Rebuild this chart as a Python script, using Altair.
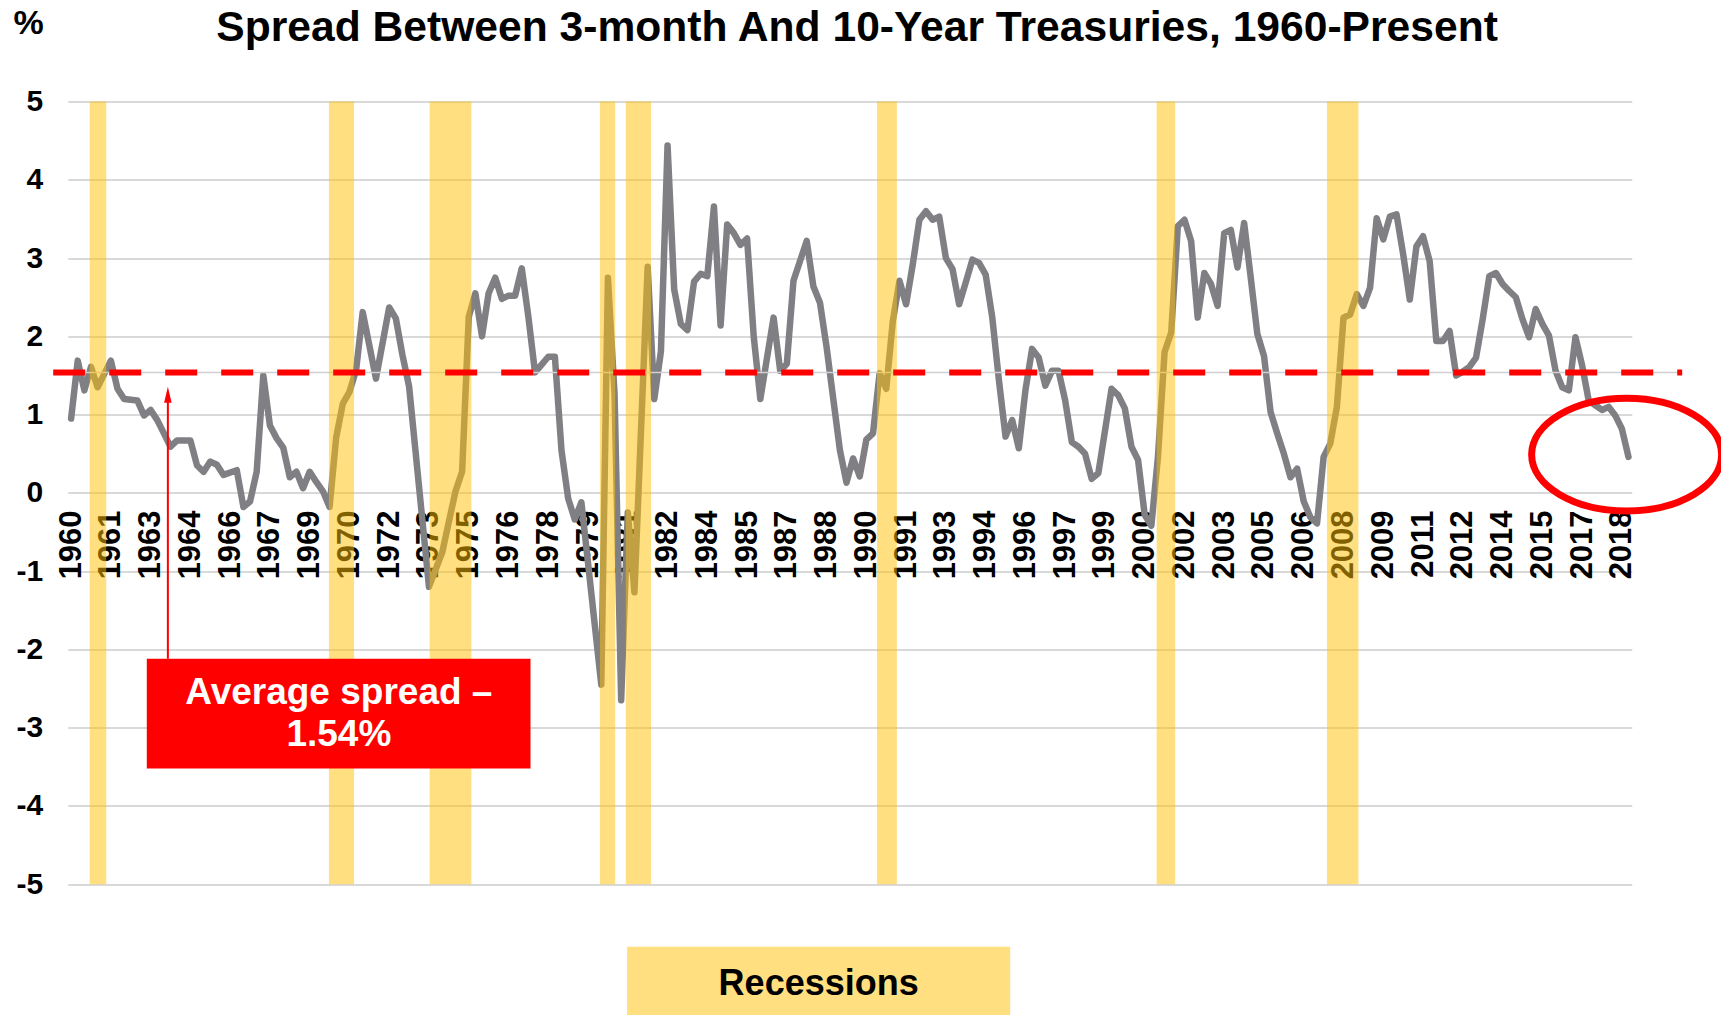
import json
import altair as alt
import pandas as pd

# ---------------- data ----------------
# quarter index = quarters since 1960Q1 (0 = 1960Q1, 235 = 2018Q4)
quarter_idx = [
    0, 1, 2, 3, 4, 6, 7, 8, 10, 11, 12, 13, 14, 15, 16, 18, 19, 20, 21, 22, 23, 25, 26, 27, 28, 29,
    30, 31, 32, 33, 34, 35, 36, 37, 38, 39, 40, 41, 42, 43, 44, 46, 48, 49, 50, 51, 54, 56, 58, 59,
    60, 61, 62, 63, 64, 65, 66, 67, 68, 69, 70, 71, 72, 73, 74, 75, 76, 77, 80, 81, 82, 83, 84, 85, 87, 88, 89,
    90, 91, 92, 93, 94, 95, 96, 97, 98, 99, 100, 101, 102, 103, 104, 106, 107, 108, 109, 111, 112, 113, 114, 116, 117, 118, 119,
    120, 121, 122, 123, 124, 125, 126, 127, 128, 129, 130, 131, 132, 133, 134, 135, 136, 137, 138, 139, 140, 141, 142, 143, 144, 145, 146, 147, 148, 149,
    150, 151, 152, 153, 154, 155, 157, 158, 159, 160, 161, 162, 163, 164, 165, 166, 167, 168, 169, 170, 171, 172, 173, 174, 175, 176, 177, 178, 179,
    180, 181, 182, 183, 184, 185, 186, 187, 188, 189, 190, 191, 192, 193, 194, 195, 196, 197, 198, 199, 200, 201, 202, 203, 204, 205, 206, 207, 208, 209,
    210, 211, 212, 213, 214, 215, 216, 217, 218, 219, 220, 221, 222, 223, 224, 225, 226, 227, 228, 229, 230, 231, 232, 233, 234, 235,
]
spread_pct = [
    0.95, 1.69, 1.31, 1.61, 1.35, 1.69, 1.33, 1.20, 1.18, 0.99, 1.06, 0.93, 0.76, 0.59, 0.67, 0.67, 0.35, 0.27, 0.40, 0.36, 0.23, 0.29, -0.18, -0.11, 0.27, 1.50,
    0.86, 0.70, 0.58, 0.20, 0.27, 0.06, 0.27, 0.14, 0.02, -0.18, 0.71, 1.14, 1.29, 1.57, 2.31, 1.46, 2.37, 2.23, 1.76, 1.36, -1.20, -0.76, 0.02, 0.27,
    2.25, 2.55, 2.00, 2.55, 2.75, 2.48, 2.52, 2.52, 2.87, 2.25, 1.54, 1.64, 1.74, 1.74, 0.54, -0.07, -0.34, -0.12, -2.45, 2.75, 1.27, -2.65, -0.25, -1.27, 2.89, 1.20, 1.81,
    4.44, 2.60, 2.16, 2.08, 2.70, 2.80, 2.77, 3.66, 2.14, 3.43, 3.32, 3.17, 3.25, 2.00, 1.20, 2.24, 1.56, 1.65, 2.71, 3.22, 2.64, 2.43, 1.86, 0.55, 0.13, 0.44, 0.21,
    0.68, 0.76, 1.53, 1.33, 2.20, 2.71, 2.41, 2.92, 3.49, 3.60, 3.49, 3.53, 3.00, 2.86, 2.41, 2.69, 2.98, 2.94, 2.79, 2.24, 1.44, 0.72, 0.93, 0.57, 1.31, 1.84, 1.73, 1.37, 1.56, 1.56,
    1.18, 0.65, 0.59, 0.50, 0.18, 0.25, 1.33, 1.25, 1.08, 0.59, 0.42, -0.28, -0.42, 0.46, 1.80, 2.05, 3.41, 3.49, 3.22, 2.24, 2.81, 2.67, 2.39, 3.32, 3.36, 2.88, 3.45, 2.75, 2.03,
    1.75, 1.03, 0.76, 0.50, 0.20, 0.31, -0.11, -0.31, -0.39, 0.46, 0.63, 1.10, 2.24, 2.28, 2.54, 2.39, 2.62, 3.51, 3.24, 3.53, 3.56, 3.05, 2.47, 3.15, 3.28, 2.96, 1.94, 1.94, 2.07, 1.50,
    1.55, 1.61, 1.73, 2.22, 2.77, 2.81, 2.67, 2.58, 2.50, 2.22, 1.99, 2.35, 2.16, 2.01, 1.56, 1.35, 1.31, 1.99, 1.63, 1.18, 1.12, 1.06, 1.10, 0.99, 0.82, 0.46,
]
assert len(quarter_idx) == len(spread_pct)

# recession shading, in quarter-index units
recession_start = [2.8, 38.9, 54.1, 79.8, 83.7, 121.6, 163.8, 189.5]
recession_end = [5.3, 42.7, 60.4, 82.1, 87.5, 124.6, 166.6, 194.25]

# category-axis labels (every 6th quarter)
tick_quarters = list(range(0, 235, 6))
tick_labels = ["1960", "1961", "1963", "1964", "1966", "1967", "1969", "1970", "1972", "1973",
               "1975", "1976", "1978", "1979", "1981", "1982", "1984", "1985", "1987", "1988",
               "1990", "1991", "1993", "1994", "1996", "1997", "1999", "2000", "2002", "2003",
               "2005", "2006", "2008", "2009", "2011", "2012", "2014", "2015", "2017", "2018"]
y_ticks = [-5, -4, -3, -2, -1, 0, 1, 2, 3, 4, 5]

average_spread = 1.54
title_text = "Spread Between 3-month And 10-Year Treasuries, 1960-Present"
box_lines = ["Average spread \u2013", "1.54%"]
legend_text = "Recessions"

# ---------------- annotation placement (data coordinates) ----------------
avg_x = (-2.7, 243.1)
circle_pos = (234.72, 0.49)
arrow_x, arrow_y0, arrow_y1, head_y = 14.6, -2.12, 1.2, 1.255
box = (11.42, 69.32, -2.12, -3.52)
box_text_pos = (40.4, -2.56)
legend_box = (83.9, 141.7, -5.80, -6.76)
legend_text_pos = (112.8, -6.27)
title_pos = (118.6, 5.78)
pct_pos = (-6.4, 5.87)

# ---------------- styling ----------------
W, H = 1564, 782.6
FONT = "Liberation Sans"
GOLD = "#FFC000"
RED = "#FF0000"

xs = alt.Scale(domain=[-0.5, 235.5], nice=False, zero=False)
ys = alt.Scale(domain=[-5, 5], nice=False, zero=False)

label_expr = f"{json.dumps(tick_labels)}[indexof({json.dumps(tick_quarters)}, datum.value)]"

x_axis = alt.Axis(
    values=tick_quarters, labelExpr=label_expr, labelAngle=270, labelAlign="right",
    labelBaseline="middle", labelPadding=17, labelFontSize=31, labelFont=FONT,
    labelFontWeight="bold", labelColor="black", ticks=False, tickSize=0, domain=False,
    grid=False, offset=-H / 2, title=None, labelOverlap=False, labelFlush=False,
)
y_axis = alt.Axis(
    values=y_ticks, labelExpr="datum.value < 0 ? '-' + abs(datum.value) : '' + datum.value",
    labelFontSize=30, labelFont=FONT, labelFontWeight="bold", labelColor="black",
    labelPadding=25, ticks=False, tickSize=0, domain=False, grid=True,
    gridColor="#D9D9D9", gridWidth=2, title=None,
)


def X(f):
    return alt.X(f, type="quantitative", scale=xs, axis=x_axis)


def Y(f):
    return alt.Y(f, type="quantitative", scale=ys, axis=y_axis)


line_df = pd.DataFrame({"q": quarter_idx, "spread": spread_pct})
rec_df = pd.DataFrame({"start": recession_start, "end": recession_end, "top": 5, "bottom": -5})
avg_df = pd.DataFrame({"x0": [avg_x[0]], "x1": [avg_x[1]], "y": [average_spread]})

line = alt.Chart(line_df).mark_line(
    color="#808084", strokeWidth=6.5, strokeJoin="round", strokeCap="round"
).encode(x=X("q"), y=Y("spread"))

avg_thin = alt.Chart(avg_df).mark_rule(color="#D0D0D0", strokeWidth=1.5).encode(
    x=X("x0"), x2="x1", y=Y("y"))

bands = alt.Chart(rec_df).mark_rect(color=GOLD, opacity=0.5).encode(
    x=X("start"), x2="end", y=Y("top"), y2="bottom")

avg_dash = alt.Chart(avg_df).mark_rule(color=RED, strokeWidth=6, strokeDash=[32, 24]).encode(
    x=X("x0"), x2="x1", y=Y("y"))

r = 111 / 187
k = 0.5523
ellipse_path = (
    f"M-1,0C-1,{-k*r:.4f},{-k:.4f},{-r:.4f},0,{-r:.4f}"
    f"C{k:.4f},{-r:.4f},1,{-k*r:.4f},1,0"
    f"C1,{k*r:.4f},{k:.4f},{r:.4f},0,{r:.4f}"
    f"C{-k:.4f},{r:.4f},-1,{k*r:.4f},-1,0Z"
)
circle = alt.Chart(pd.DataFrame({"x": [circle_pos[0]], "y": [circle_pos[1]]})).mark_point(
    shape=ellipse_path, size=190 * 190, filled=False, color=RED, strokeWidth=7, opacity=1
).encode(x=X("x"), y=Y("y"))

arrow = alt.Chart(pd.DataFrame({"x": [arrow_x], "y0": [arrow_y0], "y1": [arrow_y1]})).mark_rule(
    color=RED, strokeWidth=2).encode(x=X("x"), y=Y("y0"), y2="y1")

arrow_head = alt.Chart(pd.DataFrame({"x": [arrow_x], "y": [head_y]})).mark_point(
    shape="M0,-1L0.47,1L-0.47,1Z", size=256, filled=True, color=RED, opacity=1, strokeWidth=0
).encode(x=X("x"), y=Y("y"))

red_box = alt.Chart(pd.DataFrame({"x0": [box[0]], "x1": [box[1]], "y0": [box[2]], "y1": [box[3]]})).mark_rect(
    color=RED).encode(x=X("x0"), x2="x1", y=Y("y0"), y2="y1")

red_text = alt.Chart(pd.DataFrame({"x": [box_text_pos[0]], "y": [box_text_pos[1]]})).mark_text(
    font=FONT, fontSize=37, fontWeight="bold", color="white", align="center",
    baseline="middle", lineHeight=42
).encode(x=X("x"), y=Y("y"), text=alt.value(box_lines))

leg_box = alt.Chart(pd.DataFrame({"x0": [legend_box[0]], "x1": [legend_box[1]], "y0": [legend_box[2]], "y1": [legend_box[3]]})).mark_rect(
    color=GOLD, opacity=0.5).encode(x=X("x0"), x2="x1", y=Y("y0"), y2="y1")

leg_text = alt.Chart(pd.DataFrame({"x": [legend_text_pos[0]], "y": [legend_text_pos[1]]})).mark_text(
    font=FONT, fontSize=36, fontWeight="bold", color="black", align="center", baseline="middle"
).encode(x=X("x"), y=Y("y"), text=alt.value(legend_text))

title = alt.Chart(pd.DataFrame({"x": [title_pos[0]], "y": [title_pos[1]]})).mark_text(
    font=FONT, fontSize=42.6, fontWeight="bold", color="black", align="center", baseline="alphabetic"
).encode(x=X("x"), y=Y("y"), text=alt.value(title_text))

pct = alt.Chart(pd.DataFrame({"x": [pct_pos[0]], "y": [pct_pos[1]]})).mark_text(
    font=FONT, fontSize=34, fontWeight="bold", color="black", align="center", baseline="alphabetic"
).encode(x=X("x"), y=Y("y"), text=alt.value("%"))

left, top = 59.8, 93.6
chart = alt.layer(
    line, avg_thin, bands, avg_dash, circle, arrow, arrow_head, red_box, red_text,
    leg_box, leg_text, title, pct,
).properties(
    width=W, height=H,
    autosize=alt.AutoSizeParams(type="none"),
    padding={"left": left, "top": top, "right": 1713 - left - W, "bottom": 1007 - top - H},
    background="white",
).configure_view(strokeWidth=0)

chart.save("out.html", embed_options={"renderer": "svg", "actions": False})
